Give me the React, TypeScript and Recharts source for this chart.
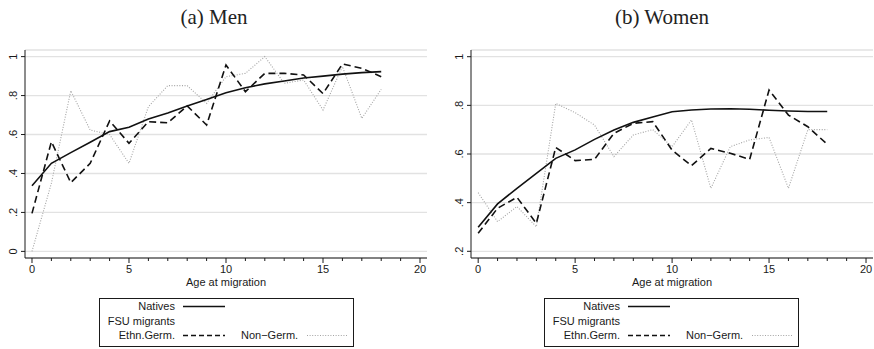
import { LineChart, Line, XAxis, YAxis, CartesianGrid } from "recharts";

// Predicted outcome by age at migration
const ages = [0, 1, 2, 3, 4, 5, 6, 7, 8, 9, 10, 11, 12, 13, 14, 15, 16, 17, 18];

const menNatives = [0.337, 0.452, 0.507, 0.56, 0.615, 0.637, 0.68, 0.71, 0.747, 0.78, 0.815, 0.84, 0.86, 0.875, 0.89, 0.9, 0.91, 0.918, 0.923];
const menEthnGerm = [0.195, 0.563, 0.353, 0.452, 0.67, 0.555, 0.666, 0.66, 0.747, 0.649, 0.957, 0.82, 0.914, 0.914, 0.906, 0.81, 0.962, 0.94, 0.897];
const menNonGerm = [0.0, 0.35, 0.825, 0.623, 0.6, 0.452, 0.743, 0.851, 0.851, 0.76, 0.897, 0.914, 1.0, 0.863, 0.88, 0.726, 0.949, 0.683, 0.832];

const womenNatives = [0.299, 0.395, 0.459, 0.52, 0.582, 0.617, 0.66, 0.699, 0.73, 0.752, 0.774, 0.781, 0.785, 0.786, 0.784, 0.78, 0.777, 0.775, 0.775];
const womenEthnGerm = [0.274, 0.377, 0.422, 0.315, 0.627, 0.573, 0.578, 0.685, 0.726, 0.733, 0.616, 0.552, 0.623, 0.603, 0.578, 0.863, 0.76, 0.712, 0.64];
const womenNonGerm = [0.441, 0.322, 0.384, 0.301, 0.808, 0.77, 0.719, 0.589, 0.678, 0.7, 0.63, 0.74, 0.459, 0.63, 0.658, 0.668, 0.459, 0.7, 0.7];

const xTicks = [0, 1, 2, 3, 4, 5, 6, 7, 8, 9, 10, 11, 12, 13, 14, 15, 16, 17, 18, 19, 20];
const menYTicks = [0, 0.2, 0.4, 0.6, 0.8, 1];
const womenYTicks = [0.2, 0.4, 0.6, 0.8, 1];

const SANS = "'Liberation Sans', Arial, sans-serif";
const SERIF = "'Liberation Serif', 'Times New Roman', serif";
const INK = "#1a1a1a";
const DOT_GREY = "#a4a4a4";

function buildRows(natives: number[], ethn: number[], nonGerm: number[]) {
  return ages.map((age, i) => ({ age, natives: natives[i], ethn: ethn[i], nonGerm: nonGerm[i] }));
}

// stata style labels: 0 .2 .4 ... 1
function fmtY(v: number) {
  if (v === 0) return "0";
  if (v === 1) return "1";
  return "." + Math.round(v * 10);
}

function XTick(props: any) {
  const { x, y, payload } = props;
  const major = payload.value % 5 === 0;
  return (
    <g>
      <line x1={x} x2={x} y1={y} y2={y + (major ? 5 : 3)} stroke={INK} />
      {major && (
        <text x={x} y={y + 15} textAnchor="middle" fontSize={11} fill={INK} fontFamily={SANS}>
          {payload.value}
        </text>
      )}
    </g>
  );
}

function YTick(props: any) {
  const { x, y, payload } = props;
  const bx = x - 8;
  return (
    <g>
      <line x1={x - 4} x2={x} y1={y} y2={y} stroke={INK} />
      <text x={bx} y={y} transform={`rotate(-90 ${bx} ${y})`} textAnchor="middle" fontSize={11} fill={INK} fontFamily={SANS}>
        {fmtY(payload.value)}
      </text>
    </g>
  );
}

function Panel({ left, width, rightMargin, rows, yDomain, yTicks, xDomain }: any) {
  return (
    <div style={{ position: "absolute", left, top: 0 }}>
      <LineChart width={width} height={349} data={rows} margin={{ top: 50, right: rightMargin, bottom: 61, left: 0 }}>
        <CartesianGrid vertical={false} stroke="#e2e2e2" strokeWidth={1.3} />
        <XAxis
          type="number"
          dataKey="age"
          domain={xDomain}
          ticks={xTicks}
          interval={0}
          height={30}
          tickSize={0}
          tickMargin={0}
          tick={<XTick />}
          axisLine={{ stroke: INK }}
          label={{ value: "Age at migration", position: "insideBottom", offset: 2, fontSize: 11, fill: INK, fontFamily: SANS }}
        />
        <YAxis
          type="number"
          domain={yDomain}
          ticks={yTicks}
          interval={0}
          width={25}
          tickSize={0}
          tickMargin={0}
          tick={<YTick />}
          axisLine={{ stroke: INK }}
        />
        <Line type="linear" dataKey="nonGerm" stroke={DOT_GREY} strokeWidth={1.1} strokeDasharray="1 1.6" dot={false} isAnimationActive={false} />
        <Line type="linear" dataKey="ethn" stroke="#111" strokeWidth={1.6} strokeDasharray="7 4" dot={false} isAnimationActive={false} />
        <Line type="linear" dataKey="natives" stroke="#111" strokeWidth={1.6} dot={false} isAnimationActive={false} />
      </LineChart>
    </div>
  );
}

function LegendBox({ bx }: { bx: number }) {
  return (
    <g fontFamily={SANS} fontSize={11} fill={INK}>
      <rect x={bx + 0.5} y={298.5} width={254} height={48} fill="none" stroke={INK} />
      <text x={bx + 76} y={310} textAnchor="end">Natives</text>
      <line x1={bx + 84} x2={bx + 126} y1={306.5} y2={306.5} stroke="#111" strokeWidth={1.5} />
      <text x={bx + 76} y={324.5} textAnchor="end">FSU migrants</text>
      <text x={bx + 76} y={339} textAnchor="end">Ethn.Germ.</text>
      <line x1={bx + 84} x2={bx + 126} y1={335.5} y2={335.5} stroke="#111" strokeWidth={1.5} strokeDasharray="5 3" />
      <text x={bx + 142} y={339}>Non−Germ.</text>
      <line x1={bx + 208} x2={bx + 249} y1={335.5} y2={335.5} stroke={DOT_GREY} strokeWidth={1.1} strokeDasharray="1 1.6" />
    </g>
  );
}

export default function App() {
  const menRows = buildRows(menNatives, menEthnGerm, menNonGerm);
  const womenRows = buildRows(womenNatives, womenEthnGerm, womenNonGerm);

  return (
    <div style={{ position: "absolute", left: 0, top: 0, width: 874, height: 349, background: "#fff", overflow: "hidden" }}>
      <Panel left={0} width={437} rightMargin={10} rows={menRows} yDomain={[-0.034, 1.034]} yTicks={menYTicks} xDomain={[-0.36, 20.36]} />
      <Panel left={446} width={428} rightMargin={1} rows={womenRows} yDomain={[0.1725, 1.0275]} yTicks={womenYTicks} xDomain={[-0.37, 20.36]} />
      <svg width={874} height={349} style={{ position: "absolute", left: 0, top: 0, pointerEvents: "none" }}>
        <text x={214} y={24} textAnchor="middle" fontFamily={SERIF} fontSize={21} fill="#222">(a) Men</text>
        <text x={662} y={24} textAnchor="middle" fontFamily={SERIF} fontSize={21} fill="#222">(b) Women</text>
        <LegendBox bx={99} />
        <LegendBox bx={544} />
      </svg>
    </div>
  );
}
